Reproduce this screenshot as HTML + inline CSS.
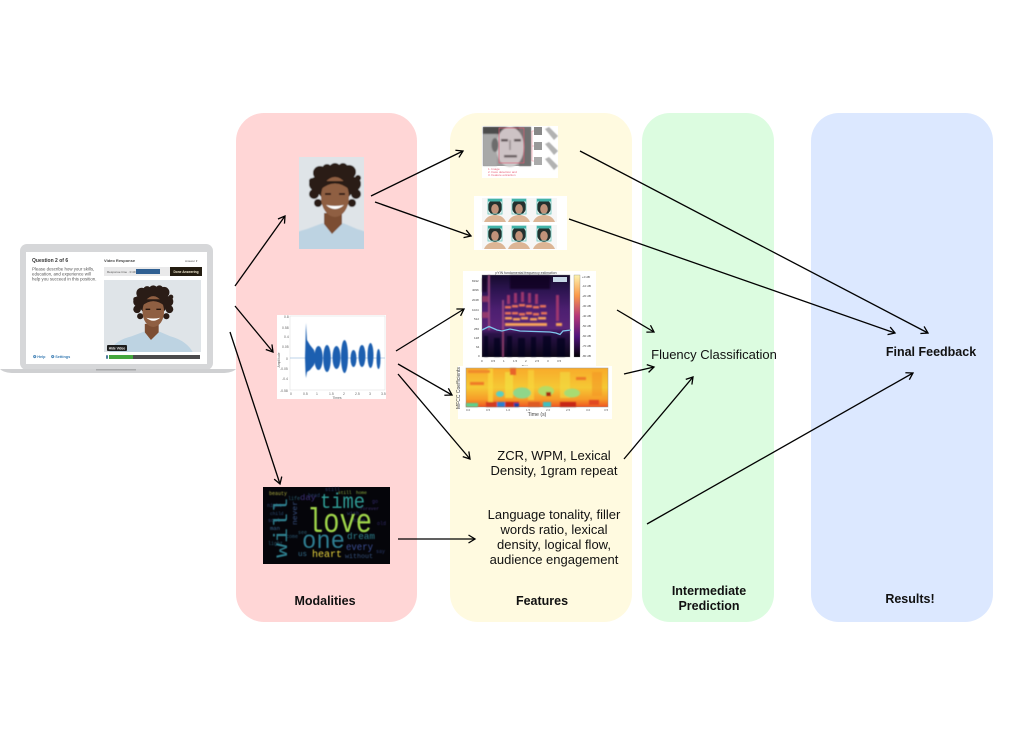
<!DOCTYPE html>
<html>
<head>
<meta charset="utf-8">
<style>
html,body{margin:0;padding:0;background:#fff;width:1015px;height:738px;overflow:hidden}
svg{display:block;font-family:"Liberation Sans",sans-serif}
</style>
</head>
<body>
<svg width="1015" height="738" viewBox="0 0 1015 738" xmlns="http://www.w3.org/2000/svg">
<defs>
<clipPath id="cPor"><rect x="299" y="157" width="65" height="92"/></clipPath>
<clipPath id="cLap"><rect x="104" y="280" width="97" height="72"/></clipPath>
<marker id="ah" markerWidth="12" markerHeight="12" refX="10" refY="6" orient="auto" markerUnits="userSpaceOnUse">
<path d="M3.500 2 L10 6 L3.500 10" fill="none" stroke="#000" stroke-width="1.3"/>
</marker>
<filter id="b1" x="-10%" y="-10%" width="120%" height="120%"><feGaussianBlur stdDeviation="0.7"/></filter>
<filter id="b2" x="-10%" y="-10%" width="120%" height="120%"><feGaussianBlur stdDeviation="1.2"/></filter>
<filter id="b3" x="-5%" y="-5%" width="110%" height="110%"><feGaussianBlur stdDeviation="0.4"/></filter>
<linearGradient id="spec" x1="0" y1="0" x2="0" y2="1">
<stop offset="0" stop-color="#150b2c"/><stop offset=".18" stop-color="#2c1450"/><stop offset=".42" stop-color="#4c1f70"/><stop offset=".65" stop-color="#5a2478"/><stop offset=".72" stop-color="#2a1248"/><stop offset="1" stop-color="#0a0618"/>
</linearGradient>
<linearGradient id="cbar" x1="0" y1="0" x2="0" y2="1">
<stop offset="0" stop-color="#fcf3b0"/><stop offset=".25" stop-color="#fb9a4a"/><stop offset=".5" stop-color="#b53679"/><stop offset=".75" stop-color="#50127b"/><stop offset="1" stop-color="#000004"/>
</linearGradient>
<linearGradient id="mf" x1="0" y1="0" x2="0" y2="1">
<stop offset="0" stop-color="#f8aa2a"/><stop offset=".5" stop-color="#f5c834"/><stop offset=".8" stop-color="#f79c28"/><stop offset="1" stop-color="#ee5522"/>
</linearGradient>
<g id="por">
<rect x="-40" y="-10" width="150" height="110" fill="#dfe4e8"/>
<path d="M-22 94 Q-16 78 8 72 L24 66 L33 77 L44 66 L58 72 Q80 78 88 94 Z" fill="#bdd3e2"/>
<path d="M25 56 L25 67 L33 77 L43 67 L43 56 Z" fill="#7b4e33"/>
<g fill="#2b1c15">
<circle cx="36" cy="27" r="19"/>
<circle cx="17" cy="27" r="7"/><circle cx="55" cy="27" r="7"/>
<circle cx="21" cy="16" r="7"/><circle cx="50" cy="15" r="7"/>
<circle cx="36" cy="12" r="6"/><circle cx="28" cy="12" r="5"/><circle cx="44" cy="11" r="5"/>
<circle cx="15" cy="37" r="5"/><circle cx="57" cy="37" r="5"/>
<circle cx="19" cy="46" r="4"/><circle cx="53" cy="46" r="4"/>
<circle cx="13" cy="24" r="3"/><circle cx="59" cy="21" r="3"/>
</g>
<ellipse cx="36" cy="40" rx="14" ry="20" fill="#8f5f42"/>
<path d="M21 33 Q36 20 51 33 L51 24 L21 24 Z" fill="#2b1c15"/>
<path d="M26 37 h6 M40 37 h6" stroke="#27170e" stroke-width="1.8"/>
<path d="M27 48 Q36 56 45 48 Q36 50 27 48 Z" fill="#fff"/>
</g>
<g id="fc">
<rect x="0" y="0" width="26" height="24" fill="#f6f6f6"/>
<path d="M2 24 Q5 17 13 17 Q21 17 24 24 Z" fill="#dcb595"/>
<ellipse cx="13" cy="9" rx="7" ry="8" fill="#24302e"/>
<ellipse cx="13" cy="11" rx="3.800" ry="5" fill="#c0927a"/>
<rect x="6" y="1" width="14" height="15" fill="none" stroke="#66c4ba" stroke-width="0.8"/>
<rect x="6" y="1" width="14" height="2.500" fill="#42b2a8"/>
</g>
</defs>

<!-- Panels -->
<rect x="236" y="113" width="181" height="509" rx="28" fill="#ffd6d6"/>
<rect x="450" y="113" width="182" height="509" rx="28" fill="#fffae0"/>
<rect x="642" y="113" width="132" height="509" rx="28" fill="#dcfce0"/>
<rect x="811" y="113" width="182" height="509" rx="28" fill="#dce8ff"/>

<!-- Laptop -->
<rect x="20" y="244" width="193" height="126" rx="7" fill="#d6d7d9"/>
<path d="M0 369 H236 Q232 373 222 373 H14 Q4 373 0 369 Z" fill="#cfd0d2"/>
<rect x="96" y="369" width="40" height="1.500" fill="#a9aaac"/>
<rect x="26" y="252" width="181" height="112" fill="#fff"/>
<text x="32" y="262" font-size="5" font-weight="bold" fill="#333">Question 2 of 6</text>
<text x="32" y="270.500" font-size="4.400" fill="#555">Please describe how your skills,</text>
<text x="32" y="275.500" font-size="4.400" fill="#555">education, and experience will</text>
<text x="32" y="280.500" font-size="4.400" fill="#555">help you succeed in this position.</text>
<text x="104" y="262" font-size="4" font-weight="bold" fill="#444">Video Response</text>
<text x="185" y="262" font-size="3" fill="#555">Answer ▾</text>
<rect x="104" y="267" width="66" height="9" fill="#e9e9ea"/>
<text x="107" y="273" font-size="3" fill="#555">Response time · 0:49</text>
<rect x="136" y="269" width="24" height="5" fill="#2f5f92"/>
<rect x="170" y="267" width="32" height="9" fill="#231c10"/>
<text x="186" y="273" font-size="3.200" font-weight="bold" fill="#f0e8d0" text-anchor="middle">Done Answering</text>
<g clip-path="url(#cLap)"><g transform="translate(104 280) scale(.77) translate(28 1)" filter="url(#b3)"><use href="#por"/></g></g>
<rect x="107" y="345" width="20" height="6" rx="1" fill="#1c1c1c"/>
<text x="117" y="349.500" font-size="3.200" font-weight="bold" fill="#eee" text-anchor="middle">Hide Video</text>
<rect x="106" y="355" width="2" height="4" rx="1" fill="#4c7a9c"/>
<rect x="109" y="355" width="91" height="4" fill="#4b4b4d"/>
<rect x="109" y="355" width="24" height="4" fill="#43a63e"/>
<text x="33" y="358" font-size="3.800" font-weight="bold" fill="#3e7fb5">❂ Help</text>
<text x="51" y="358" font-size="3.800" font-weight="bold" fill="#3e7fb5">❂ Settings</text>

<!-- Portrait -->
<g clip-path="url(#cPor)"><g transform="translate(299 157)" filter="url(#b3)"><use href="#por"/></g></g>

<!-- Waveform -->
<rect x="277" y="315" width="109" height="84" fill="#fff"/>
<rect x="290" y="316" width="95" height="74" fill="none" stroke="#e0e0e0" stroke-width="0.6"/>
<line x1="290" y1="358" x2="385" y2="358" stroke="#a9c4e0" stroke-width="0.7"/>
<g fill="#1c5fb0" filter="url(#b3)">
<path d="M305 358 L305.500 340 L306 323 L307 340 L310 345 L314 350 L316 358 L314 365 L310 370 L307 372 L306 378 L305.500 372 Z"/>
<ellipse cx="318.500" cy="358" rx="4.200" ry="12"/>
<ellipse cx="327" cy="358.500" rx="3.800" ry="13.500"/>
<ellipse cx="336.500" cy="357.500" rx="4" ry="11.500"/>
<ellipse cx="344.500" cy="356.500" rx="3.500" ry="16.500"/>
<ellipse cx="353.500" cy="358.500" rx="3" ry="8.500"/>
<ellipse cx="362" cy="356" rx="3.500" ry="11"/>
<ellipse cx="370.500" cy="355.500" rx="3" ry="12.500"/>
<ellipse cx="378.500" cy="359" rx="2" ry="10"/>
</g>
<g font-size="3.400" fill="#666">
<text x="284" y="318">0.8</text><text x="282" y="329">0.58</text><text x="284" y="338">0.4</text><text x="282" y="348">0.05</text><text x="286" y="360">0</text><text x="280" y="370">-0.05</text><text x="282" y="380">-0.4</text><text x="280" y="392">-0.58</text>
<text x="290" y="395">0</text><text x="303" y="395">0.5</text><text x="316" y="395">1</text><text x="329" y="395">1.5</text><text x="343" y="395">2</text><text x="355" y="395">2.5</text><text x="369" y="395">3</text><text x="381" y="395">3.5</text>
<text x="337" y="399" text-anchor="middle">Times</text>
<text x="0" y="0" transform="translate(280 360) rotate(-90)" text-anchor="middle">Amplitude</text>
</g>

<!-- Word cloud -->
<rect x="263" y="487" width="127" height="77" fill="#05050a"/>
<g font-family="'Liberation Mono',monospace" filter="url(#b3)">
<g font-size="5" fill="#2c3f6c">
<text x="267" y="507">night</text><text x="268" y="522">soul</text><text x="268" y="545" fill="#2a5a6e">light</text><text x="308" y="497" fill="#27406a">head</text><text x="325" y="491" fill="#2c3f6c">still</text>
<text x="347" y="515" fill="#2e3a6e">wish</text><text x="350" y="522" fill="#2e3a6e">thing</text><text x="377" y="525" fill="#2d2a66">old</text><text x="286" y="538" fill="#27506a">come</text><text x="298" y="534" fill="#2a5a6e">see</text><text x="372" y="503" fill="#322a6a">go</text>
<text x="376" y="553" fill="#2a3a6a">say</text><text x="288" y="500" fill="#2a5a6e">life</text>
</g>
<text x="307" y="532" font-size="34" fill="#9ed44a" textLength="65" lengthAdjust="spacingAndGlyphs">love</text>
<text x="320" y="508" font-size="21" fill="#2f9a93" textLength="45" lengthAdjust="spacingAndGlyphs">time</text>
<text x="302" y="548" font-size="25" fill="#2e7d90" textLength="43" lengthAdjust="spacingAndGlyphs">one</text>
<text transform="translate(287 558) rotate(-90)" font-size="19" fill="#2f7f8e" textLength="60" lengthAdjust="spacingAndGlyphs">will</text>
<text x="312" y="557" font-size="10" fill="#e7d23c" textLength="30" lengthAdjust="spacingAndGlyphs">heart</text>
<text x="347" y="539" font-size="9.500" fill="#2d7f8c" textLength="28" lengthAdjust="spacingAndGlyphs">dream</text>
<text x="346" y="550" font-size="10.500" fill="#3b4f95" textLength="27" lengthAdjust="spacingAndGlyphs">every</text>
<text x="345" y="558" font-size="6.500" fill="#34507a" textLength="28" lengthAdjust="spacingAndGlyphs">without</text>
<text x="269" y="495" font-size="5" fill="#b0b040" textLength="18" lengthAdjust="spacingAndGlyphs">beauty</text>
<text x="338" y="494" font-size="4.500" fill="#8fb040">still</text><text x="356" y="494" font-size="4.500" fill="#8fb040">home</text>
<text transform="translate(297 525) rotate(-90)" font-size="7.500" fill="#38507f" textLength="24" lengthAdjust="spacingAndGlyphs">never</text>
<text x="300" y="500" font-size="8.500" fill="#3d2f78" textLength="16" lengthAdjust="spacingAndGlyphs">day</text>
<text x="270" y="530" font-size="5.500" fill="#3b6690">man</text>
<text x="298" y="556" font-size="7.500" fill="#356e8c">us</text>
<text x="270" y="515" font-size="4.500" fill="#2d4f78">child</text>
<text x="360" y="510" font-size="4.500" fill="#40306f">forever</text>
</g>

<!-- Face with features -->
<rect x="482" y="126" width="76" height="52" fill="#fff"/>
<rect x="483" y="127" width="48" height="39" fill="#9a9a9a"/>
<g filter="url(#b1)">
<rect x="483" y="127" width="14" height="39" fill="#a8a8a8"/>
<rect x="483" y="127" width="48" height="7" fill="#4c4c4c"/>
<rect x="519" y="127" width="12" height="39" fill="#707070"/>
<ellipse cx="510" cy="147" rx="14" ry="20" fill="#cacaca"/>
<ellipse cx="495" cy="145" rx="3.500" ry="7" fill="#6c6c6c"/>
<rect x="501" y="139" width="7" height="2.500" fill="#444"/><rect x="514" y="139" width="7" height="2.500" fill="#444"/>
<path d="M510 140 V150" stroke="#999" stroke-width="2"/>
<rect x="504" y="155" width="13" height="2.500" fill="#555"/>
</g>
<rect x="499" y="128" width="25" height="35" fill="#f08a9a" fill-opacity="0.1" stroke="#df5a72" stroke-width="0.6"/>
<path d="M532 131 H534 M532 146 H534 M532 161 H534 M532 131 V161" stroke="#ef8c9c" stroke-width="0.6" fill="none"/>
<rect x="534" y="127" width="8" height="8" fill="#888"/><rect x="534" y="142" width="8" height="8" fill="#999"/><rect x="534" y="157" width="8" height="8" fill="#aaa"/>
<g fill="#b2b2b2" filter="url(#b3)">
<path d="M545 129 L549 127 L558 136 L554 140 Z"/><path d="M545 144 L549 142 L558 151 L554 155 Z"/><path d="M545 159 L549 157 L558 166 L554 170 Z"/>
</g>
<g font-size="3" fill="#e8647a"><text x="488" y="170">1. Image</text><text x="488" y="173">2. Face detection and</text><text x="488" y="176">3. Feature extraction</text></g>

<!-- Face grid -->
<rect x="474" y="196" width="93" height="54" fill="#fff"/>
<use href="#fc" x="482" y="198"/><use href="#fc" x="506" y="198"/><use href="#fc" x="531" y="198"/>
<use href="#fc" x="482" y="225"/><use href="#fc" x="506" y="225"/><use href="#fc" x="531" y="225"/>

<!-- Spectrogram -->
<rect x="463" y="271" width="133" height="97" fill="#fff"/>
<rect x="482" y="275" width="88" height="82" fill="url(#spec)"/>
<g filter="url(#b1)">
<rect x="510" y="275" width="40" height="14" fill="#0d0720" opacity=".8"/>
<rect x="482" y="278" width="5" height="14" fill="#0d0720" opacity=".6"/>
<rect x="482" y="296" width="6" height="6" fill="#c04a68" opacity=".6"/>
<rect x="482" y="312" width="6" height="6" fill="#c04a68" opacity=".6"/>
<path d="M489 275 V330 M503 300 V357" stroke="#a04880" stroke-width="1.800"/>
<path d="M503 330 V357" stroke="#8a3a6a" stroke-width="2"/>
<g fill="#e9735a">
<rect x="505" y="306" width="6" height="2.500"/><rect x="512" y="305" width="6" height="2.500"/><rect x="519" y="304" width="6" height="2.500"/><rect x="526" y="305" width="6" height="2.500"/><rect x="533" y="306" width="6" height="2.500"/><rect x="540" y="305" width="6" height="2.500"/>
<rect x="505" y="312" width="6" height="2.500"/><rect x="512" y="312" width="6" height="2.500"/><rect x="519" y="313" width="6" height="2.500"/><rect x="526" y="312" width="6" height="2.500"/><rect x="533" y="313" width="6" height="2.500"/><rect x="541" y="312" width="6" height="2.500"/>
</g>
<g fill="#f7a25c">
<rect x="505" y="317" width="7" height="2.500"/><rect x="513" y="318" width="7" height="2.500"/><rect x="521" y="317" width="7" height="2.500"/><rect x="530" y="318" width="7" height="2.500"/><rect x="538" y="317" width="8" height="2.500"/>
<rect x="505" y="323" width="42" height="3"/>
<rect x="556" y="323" width="6" height="3"/>
</g>
<g fill="#a8386e" opacity=".9">
<rect x="507" y="295" width="3" height="9"/><rect x="514" y="293" width="3" height="10"/><rect x="521" y="292" width="3" height="10"/><rect x="528" y="293" width="3" height="10"/><rect x="535" y="294" width="3" height="10"/><rect x="556" y="295" width="3" height="26"/>
</g>
<g fill="#08041a" opacity=".7">
<rect x="484" y="336" width="4" height="21"/><rect x="494" y="338" width="6" height="19"/><rect x="507" y="336" width="5" height="21"/><rect x="518" y="338" width="7" height="19"/><rect x="531" y="337" width="5" height="20"/><rect x="543" y="336" width="8" height="21"/><rect x="557" y="338" width="8" height="19"/>
</g>
</g>
<path d="M482 330 L489 326.500 L497 330 L502 331 L510 329 L520 331 L535 331.500 L550 332 L556 333 L560 334.500 L563 331 L571 330" fill="none" stroke="#7fc6ec" stroke-width="1.300"/>
<rect x="553" y="277" width="14" height="5" fill="#c8d8e8"/>
<rect x="482" y="275" width="88" height="82" fill="none" stroke="#888" stroke-width="0.4"/>
<text x="526" y="274" font-size="3.500" fill="#444" text-anchor="middle">pYIN fundamental frequency estimation</text>
<g font-size="3" fill="#444">
<text x="472" y="282">8192</text><text x="472" y="291">4096</text><text x="472" y="301">2048</text><text x="472" y="311">1024</text><text x="474" y="320">512</text><text x="474" y="330">256</text><text x="474" y="339">128</text><text x="476" y="348">64</text><text x="478" y="357">0</text>
<text x="481" y="362">0</text><text x="491" y="362">0.5</text><text x="503" y="362">1</text><text x="513" y="362">1.5</text><text x="525" y="362">2</text><text x="535" y="362">2.5</text><text x="547" y="362">3</text><text x="557" y="362">3.5</text>
<text x="525" y="367" text-anchor="middle">Time</text>
<text x="582" y="278">+0 dB</text><text x="582" y="287">-10 dB</text><text x="582" y="297">-20 dB</text><text x="582" y="307">-30 dB</text><text x="582" y="317">-40 dB</text><text x="582" y="327">-50 dB</text><text x="582" y="337">-60 dB</text><text x="582" y="347">-70 dB</text><text x="582" y="357">-80 dB</text>
</g>
<rect x="574" y="275" width="6" height="82" fill="url(#cbar)" stroke="#777" stroke-width="0.3"/>

<!-- MFCC -->
<rect x="458" y="366" width="154" height="53" fill="#fff"/>
<rect x="466" y="368" width="142" height="39" fill="url(#mf)"/>
<g filter="url(#b1)">
<rect x="488" y="368" width="5" height="34" fill="#f9d83a" opacity=".7"/>
<rect x="505" y="372" width="8" height="26" fill="#f2e040" opacity=".7"/>
<rect x="528" y="370" width="6" height="30" fill="#f9d83a" opacity=".6"/>
<rect x="560" y="372" width="10" height="26" fill="#f2dc40" opacity=".6"/>
<rect x="592" y="372" width="10" height="24" fill="#f4901f" opacity=".5"/>
<ellipse cx="522" cy="393" rx="9" ry="5.500" fill="#8fd68a"/>
<ellipse cx="500" cy="394" rx="4" ry="3" fill="#58cfc4"/>
<ellipse cx="546" cy="391" rx="8" ry="5" fill="#b4dc66"/>
<ellipse cx="572" cy="393" rx="8" ry="4.500" fill="#a8dc72"/>
<rect x="466" y="403" width="12" height="4" fill="#5dd08c"/>
<rect x="486" y="402" width="12" height="5" fill="#d23a20"/><rect x="497" y="402" width="8" height="5" fill="#2a7fd0"/>
<rect x="505" y="402" width="14" height="5" fill="#c42818"/><rect x="514" y="403" width="5" height="4" fill="#1a3fa0"/>
<rect x="528" y="402" width="12" height="5" fill="#dd5a20"/><rect x="543" y="402" width="8" height="5" fill="#3fc0c0"/>
<rect x="560" y="402" width="16" height="5" fill="#c62818"/>
<rect x="546" y="392" width="5" height="4" fill="#a82510"/><rect x="589" y="400" width="10" height="5" fill="#e14a20"/>
<rect x="510" y="368" width="6" height="7" fill="#e8642a"/>
<rect x="468" y="370" width="22" height="3" fill="#f08a2a"/><rect x="470" y="382" width="14" height="3" fill="#ef7a28"/><rect x="576" y="377" width="10" height="3" fill="#ee7a28"/>
</g>
<rect x="466" y="368" width="142" height="39" fill="none" stroke="#999" stroke-width="0.5"/>
<g font-size="3" fill="#555"><text x="466" y="411">0.0</text><text x="486" y="411">0.5</text><text x="506" y="411">1.0</text><text x="526" y="411">1.5</text><text x="546" y="411">2.0</text><text x="566" y="411">2.5</text><text x="586" y="411">3.0</text><text x="604" y="411">3.5</text></g>
<text x="537" y="416" font-size="5.200" fill="#444" text-anchor="middle">Time (s)</text>
<text transform="translate(460 388) rotate(-90)" font-size="5" fill="#444" text-anchor="middle">MFCC Coefficients</text>

<!-- Arrows -->
<g stroke="#000" stroke-width="1.300" fill="none" marker-end="url(#ah)">
<line x1="235" y1="286" x2="285" y2="216"/>
<line x1="235" y1="306" x2="273" y2="352"/>
<line x1="230" y1="332" x2="280" y2="484"/>
<line x1="371" y1="196" x2="463" y2="151"/>
<line x1="375" y1="202" x2="471" y2="236"/>
<line x1="396" y1="351" x2="464" y2="309"/>
<line x1="398" y1="364" x2="452" y2="395"/>
<line x1="398" y1="374" x2="470" y2="459"/>
<line x1="398" y1="539" x2="475" y2="539"/>
<line x1="580" y1="151" x2="928" y2="333"/>
<line x1="569" y1="219" x2="895" y2="333"/>
<line x1="617" y1="310" x2="654" y2="332"/>
<line x1="624" y1="374" x2="654" y2="367"/>
<line x1="624" y1="459" x2="693" y2="377"/>
<line x1="647" y1="524" x2="913" y2="373"/>
</g>

<!-- Labels -->
<g fill="#111" text-anchor="middle">
<text x="714" y="359" font-size="13">Fluency Classification</text>
<text x="554" y="460" font-size="13">ZCR, WPM, Lexical</text>
<text x="554" y="475" font-size="13">Density, 1gram repeat</text>
<text x="554" y="519" font-size="13">Language tonality, filler</text>
<text x="554" y="534" font-size="13">words ratio, lexical</text>
<text x="554" y="549" font-size="13">density, logical flow,</text>
<text x="554" y="564" font-size="13">audience engagement</text>
<g font-weight="bold" font-size="12.500">
<text x="931" y="356">Final Feedback</text>
<text x="325" y="605">Modalities</text>
<text x="542" y="605">Features</text>
<text x="709" y="595">Intermediate</text>
<text x="709" y="610">Prediction</text>
<text x="910" y="603">Results!</text>
</g>
</g>
</svg>
</body>
</html>
